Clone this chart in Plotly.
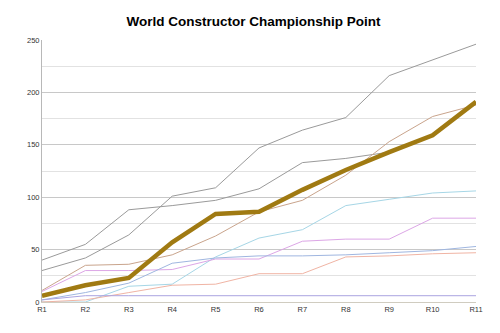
import plotly.graph_objects as go

rounds = ["R1", "R2", "R3", "R4", "R5", "R6", "R7", "R8", "R9", "R10", "R11"]

team_a = [40, 55, 88, 92, 97, 108, 133, 137, 143, 158, 190]
team_b = [30, 42, 64, 101, 109, 147, 164, 176, 216, 231, 246]
team_c = [11, 35, 36, 45, 63, 86, 97, 121, 153, 177, 188]
team_e = [0, 0, 15, 17, 43, 61, 69, 92, 98, 104, 106]
team_f = [10, 30, 30, 31, 41, 41, 58, 60, 60, 80, 80]
team_g = [2, 9, 18, 37, 42, 44, 44, 45, 47, 49, 53]
team_h = [0, 2, 9, 16, 17, 27, 27, 43, 44, 46, 47]
team_j = [2, 6, 6, 6, 6, 6, 6, 6, 6, 6, 6]
highlight = [6, 16, 23, 57, 84, 86, 107, 126, 143, 159, 191]

thin = [
    (team_a, "#9a9a9a"),
    (team_b, "#9a9a9a"),
    (team_c, "#c9a48c"),
    (team_e, "#a6d6e6"),
    (team_f, "#dca6e6"),
    (team_g, "#9fb6e0"),
    (team_h, "#f0b4a4"),
    (team_j, "#aaa4e0"),
]

fig = go.Figure()
for vals, col in thin:
    fig.add_trace(go.Scatter(x=rounds, y=vals, mode="lines",
                             line=dict(color=col, width=1), showlegend=False))
fig.add_trace(go.Scatter(x=rounds, y=highlight, mode="lines",
                         line=dict(color="#a07a12", width=4.5), showlegend=False))

fig.update_layout(
    width=500, height=333,
    margin=dict(l=42, r=24, t=40, b=31),
    paper_bgcolor="white", plot_bgcolor="white",
    title=dict(text="<b>World Constructor Championship Point</b>",
               x=0.507, xref="container", y=0.935, yref="container",
               xanchor="center", yanchor="middle",
               font=dict(family="Liberation Sans, Arial, sans-serif", size=13.5, color="#000")),
    font=dict(family="Liberation Sans, Arial, sans-serif", size=8, color="#333"),
)
fig.update_xaxes(range=[0, 10], showgrid=False, showline=True, linecolor="#d0ccc0",
                 linewidth=1, ticks="", tickfont=dict(size=7.5, color="#333"))
fig.update_yaxes(range=[0, 250], dtick=50, showgrid=True, gridcolor="#c8c8c8",
                 gridwidth=1, zeroline=False, showline=True, linecolor="#b8b8b8",
                 linewidth=1, ticks="", tickfont=dict(size=7.5, color="#333"),
                 minor=dict(dtick=25, showgrid=True, gridcolor="#e2e2e2", gridwidth=1))

fig.write_html("out.html")
